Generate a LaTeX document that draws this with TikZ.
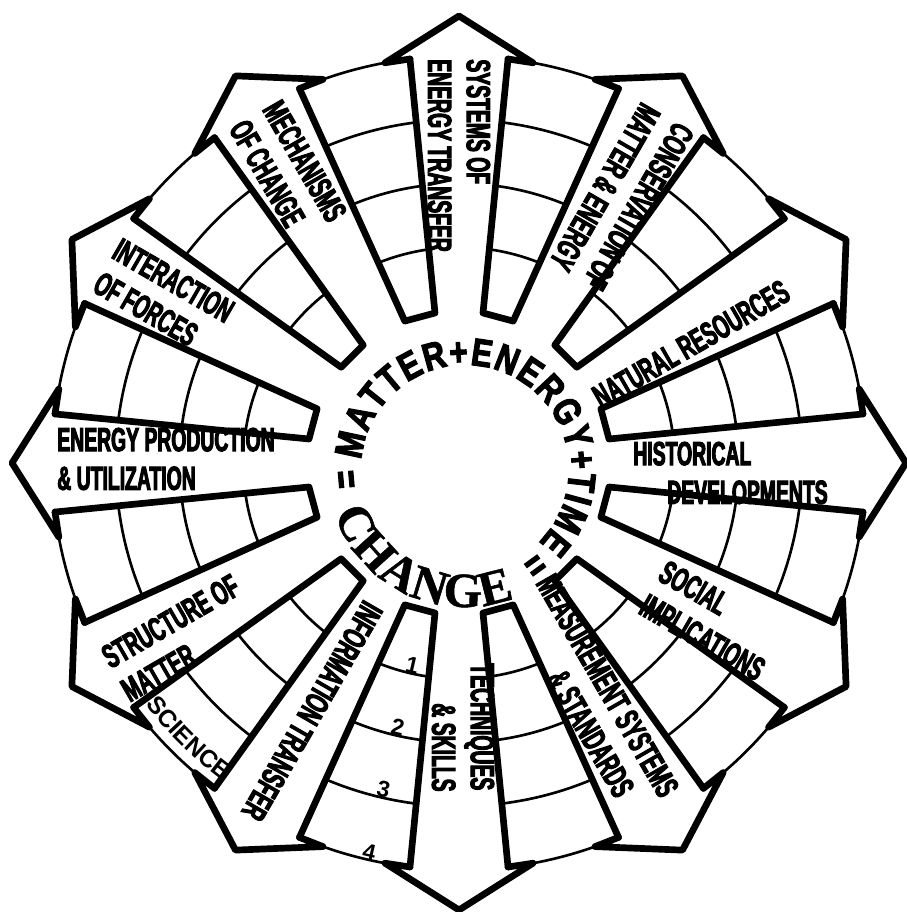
\documentclass[tikz,border=0pt]{standalone}
\usepackage{fontspec}
\usetikzlibrary{decorations.text}
\newfontfamily\labfont[FakeStretch=0.58,FakeBold=3]{Liberation Sans}
\newfontfamily\ringfont[FakeStretch=0.8,FakeBold=3]{Liberation Sans}
\newfontfamily\changefont[FakeBold=1]{Liberation Serif}
\newfontfamily\scifont{Liberation Sans}
\newcommand\ringtext{\ringfont\bfseries\fontsize{22}{22}\selectfont}
\newcommand\changetext{\changefont\bfseries\fontsize{28}{28}\selectfont}
\newcommand\scitext{\scifont\bfseries\fontsize{14}{14}\selectfont}

\tikzset{
  edge/.style={line width=3.8pt,line join=round,line cap=round},
  band/.style={line width=1.5pt},
  lab/.style={font=\labfont\bfseries\fontsize{19}{22}\selectfont,align=left,inner sep=0pt,anchor=west},
  digit/.style={font=\scifont\bfseries\fontsize{13}{13}\selectfont,inner sep=0pt},
}

\begin{document}
\begin{tikzpicture}[x=0.02cm,y=0.02cm]
  \useasboundingbox (-459,-449) rectangle (447,463);
  % cells between the arrows, and the arrow heads
  \foreach \ang in {0,30,...,330} {
    \begin{scope}[rotate=\ang]
      \begin{scope}
        \clip (9.09:151.9) -- (6.92:407) arc[start angle=6.92,end angle=23.08,radius=407] -- (20.91:151.9) -- cycle;
        \foreach \rad in {215.75,279.5,343.25} \draw[band] (0,0) circle[radius=\rad];
      \end{scope}
      \draw[band] (6.92:407) arc[start angle=6.92,end angle=23.08,radius=407];
      \draw[edge] (6.92:407) -- (9.09:151.9) -- (20.91:151.9) -- (23.08:407);
      \draw[edge] (404,49) -- (400.2,74) -- (447,0) -- (400.2,-74) -- (404,-49);
    \end{scope}
  }
  % arrow labels
  \foreach \ang/\start/\off/\flip/\txt in {
      0/174/-10/0/{HISTORICAL\\\hspace{0.68cm}DEVELOPMENTS},
      30/150/-13/0/{NATURAL RESOURCES},
      60/405/-8/180/{CONSERVATION OF\\MATTER \& ENERGY},
      90/404/0/180/{SYSTEMS OF\\ENERGY TRANSFER},
      120/405/2/180/{MECHANISMS\\OF CHANGE},
      150/405/4/180/{INTERACTION\\OF FORCES},
      180/402/-4/180/{ENERGY PRODUCTION\\\& UTILIZATION},
      210/405/12/180/{STRUCTURE OF\\MATTER},
      240/165/-3/0/{INFORMATION TRANSFER},
      270/200/4/0/{TECHNIQUES\\\hspace{0.8cm}\& SKILLS},
      300/142/-2/0/{MEASUREMENT SYSTEMS\\\hspace{1.76cm}\& STANDARDS},
      330/229/-10/0/{SOCIAL\\IMPLICATIONS}} {
    \begin{scope}[rotate=\ang]
      \node[lab,rotate=\ang+\flip] (lab\ang) at (\start,\off) {\txt};
    \end{scope}
  }
  % ring of words in the middle
  \begin{scope}[shift={(6,-6)}]
    \path[decorate,decoration={text along path,text={|\ringtext|MATTER+ENERGY+TIME},text align={fit to path}}]
      (175:104) arc[start angle=175,end angle=-45,radius=104];
    \path[decorate,decoration={text along path,text={|\changetext|CHANGE},text align={fit to path}}]
      (199:138) arc[start angle=199,end angle=291,radius=138];
    \node[font=\ringtext,rotate=275,inner sep=0pt] (eqa) at (185:122) {=};
    \node[font=\ringtext,rotate=36,inner sep=0pt] (eqb) at (306:122) {=};
  \end{scope}
  % scale of one cell
  \path[decorate,decoration={text along path,text={|\scitext|SCIENCE},text align=center}]
    (217:396) arc[start angle=217,end angle=234,radius=396];
  \foreach \n/\rad in {1/207.75,2/271.5,3/335.25,4/399}
    \node[digit,rotate=-13] (num\n) at (257:\rad) {\n};
\end{tikzpicture}
\end{document}
